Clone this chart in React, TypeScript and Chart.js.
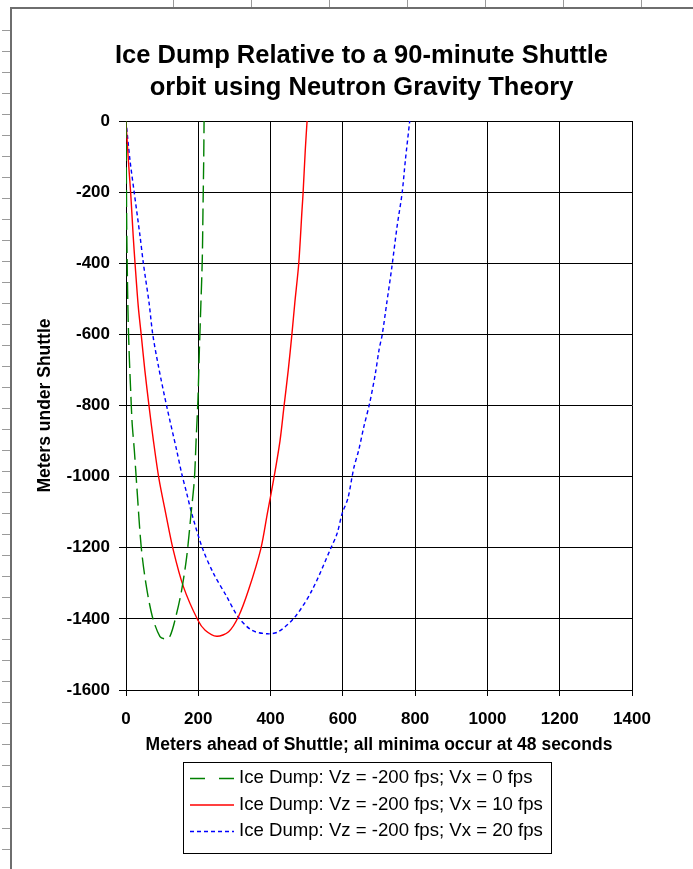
import React, { useEffect, useRef } from 'react';
import { Chart, registerables } from 'chart.js';

Chart.register(...registerables);

const TITLE_LINES = ['Ice Dump Relative to a 90-minute Shuttle', 'orbit using Neutron Gravity Theory'];
const X_TITLE = 'Meters ahead of Shuttle; all minima occur at 48 seconds';
const Y_TITLE = 'Meters under Shuttle';
const SERIES_LABELS = [
  'Ice Dump: Vz = -200 fps; Vx = 0 fps',
  'Ice Dump: Vz = -200 fps; Vx = 10 fps',
  'Ice Dump: Vz = -200 fps; Vx = 20 fps',
];

// Vx = 0 fps
const vx0X = [0, 1, 2, 4, 6, 9, 13, 17, 23, 30, 42, 55, 73, 94, 108, 122, 140, 154, 168, 180, 189, 194, 199, 203, 207, 211, 213, 215, 216];
const vx0Y = [0, -150, -300, -450, -560, -660, -760, -850, -925, -1029, -1197, -1300, -1394, -1450, -1456, -1448, -1385, -1319, -1225, -1104, -1010, -897, -785, -644, -520, -391, -250, -110, 0];

// Vx = 10 fps
const vx10X = [0, 4, 9, 13, 20, 25, 34, 42, 52, 64, 76, 91, 110, 130, 159, 199, 219, 251, 284, 311, 339, 373, 391, 409, 426, 437, 449, 459, 467, 478, 487, 490, 496, 501];
const vx10Y = [0, -70, -147, -203, -325, -400, -522, -600, -700, -804, -900, -1005, -1104, -1203, -1310, -1404, -1432, -1449, -1436, -1394, -1319, -1203, -1104, -1005, -900, -804, -700, -600, -512, -400, -250, -202, -82, 0];

// Vx = 20 fps
const vx20X = [0, 11, 23, 39, 48, 64, 74, 90, 113, 140, 154, 168, 182, 212, 242, 279, 310, 348, 392, 422, 468, 515, 566, 584, 598, 614, 630, 644, 658, 674, 690, 700, 709, 721, 735, 750, 764, 773, 785];
const vx20Y = [0, -110, -203, -325, -400, -513, -600, -691, -804, -925, -991, -1047, -1104, -1203, -1272, -1338, -1394, -1432, -1442, -1436, -1394, -1319, -1203, -1160, -1104, -1061, -977, -925, -860, -794, -710, -644, -600, -515, -415, -297, -202, -110, 0];

const X_MIN = 0;
const X_MAX = 1400;
const Y_MIN = -1600;
const Y_MAX = 0;
const STEP = 200;

const COLORS = ['#008000', '#ff0000', '#0000ff'];
const DASHES = [[17, 6], [], [4, 3]];
const LEGEND_DASHES = [[15, 14], [], [4, 3]];

const FONT = "'Liberation Sans', Arial, sans-serif";

function pts(xs: number[], ys: number[]) {
  return xs.map((x, i) => ({ x, y: ys[i] }));
}

const framePlugin = {
  id: 'sheetFrame',
  beforeDraw(chart: any) {
    const ctx = chart.ctx;
    const w = chart.width;
    const h = chart.height;
    ctx.save();
    ctx.fillStyle = '#ffffff';
    ctx.fillRect(0, 0, w, h);
    ctx.strokeStyle = '#6e6e6e';
    ctx.lineWidth = 2;
    ctx.beginPath();
    ctx.moveTo(11, h);
    ctx.lineTo(11, 8);
    ctx.lineTo(w, 8);
    ctx.stroke();
    ctx.lineWidth = 1;
    ctx.strokeStyle = '#9a9a9a';
    ctx.beginPath();
    for (let y = 30; y < h; y += 21) {
      ctx.moveTo(2, y + 0.5);
      ctx.lineTo(10, y + 0.5);
    }
    for (let x = 173; x < w; x += 78) {
      ctx.moveTo(x + 0.5, 0);
      ctx.lineTo(x + 0.5, 7);
    }
    ctx.stroke();
    ctx.restore();
  },
};

const titlePlugin = {
  id: 'fixedTitle',
  afterDraw(chart: any, _args: any, opts: any) {
    const ctx = chart.ctx;
    ctx.save();
    ctx.fillStyle = '#000000';
    ctx.font = `bold ${opts.fontSize}px ${FONT}`;
    ctx.textAlign = 'center';
    ctx.textBaseline = 'middle';
    TITLE_LINES.forEach((line, i) => {
      ctx.fillText(line, opts.centerX, opts.firstY + i * opts.lineH);
    });
    ctx.restore();
  },
};

const boxLegendPlugin = {
  id: 'boxLegend',
  afterDraw(chart: any, _args: any, opts: any) {
    const ctx = chart.ctx;
    ctx.save();
    ctx.strokeStyle = '#000000';
    ctx.lineWidth = 1;
    ctx.strokeRect(opts.left + 0.5, opts.top + 0.5, opts.width, opts.height);
    chart.data.datasets.forEach((ds: any, i: number) => {
      const y = opts.top + opts.firstRow + i * opts.rowH;
      ctx.strokeStyle = ds.borderColor;
      ctx.lineWidth = ds.borderWidth;
      ctx.setLineDash(LEGEND_DASHES[i]);
      ctx.beginPath();
      ctx.moveTo(opts.sampleX0, y + 0.5);
      ctx.lineTo(opts.sampleX1, y + 0.5);
      ctx.stroke();
      ctx.setLineDash([]);
      ctx.fillStyle = '#000000';
      ctx.font = `${opts.fontSize}px ${FONT}`;
      ctx.textBaseline = 'middle';
      ctx.textAlign = 'left';
      ctx.fillText(ds.label, opts.textX, y);
    });
    ctx.restore();
  },
};

export default function App() {
  const canvasRef = useRef<HTMLCanvasElement | null>(null);

  useEffect(() => {
    const canvas = canvasRef.current;
    if (!canvas) return;
    const series = [
      pts(vx0X, vx0Y),
      pts(vx10X, vx10Y),
      pts(vx20X, vx20Y),
    ];
    const chart = new Chart(canvas, {
      type: 'scatter',
      data: {
        datasets: series.map((data, i) => ({
          label: SERIES_LABELS[i],
          data,
          showLine: true,
          borderColor: COLORS[i],
          backgroundColor: COLORS[i],
          borderWidth: 1.4,
          borderDash: DASHES[i],
          pointRadius: 0,
          pointHoverRadius: 0,
          tension: 0.3,
          fill: false,
        })),
      },
      options: {
        animation: false,
        responsive: false,
        devicePixelRatio: 1,
        layout: { padding: { left: 20, right: 61, top: 121, bottom: 109 } },
        plugins: {
          legend: { display: false },
          tooltip: { enabled: false },
          title: { display: false },
          fixedTitle: {
            centerX: 361.5,
            firstY: 56,
            lineH: 32,
            fontSize: 25.5,
          },
          boxLegend: {
            left: 183,
            top: 762,
            width: 368,
            height: 91,
            firstRow: 16,
            rowH: 26.5,
            sampleX0: 190,
            sampleX1: 234,
            textX: 239,
            fontSize: 18.6,
          },
        } as any,
        scales: {
          x: {
            type: 'linear',
            min: X_MIN,
            max: X_MAX,
            afterFit: (scale: any) => {
              scale.height = 70;
            },
            ticks: {
              stepSize: STEP,
              color: '#000000',
              padding: 13,
              font: { family: FONT, size: 17, weight: 'bold' },
              callback: (v: any) => String(v),
            },
            grid: { color: '#000000', lineWidth: 1, tickLength: 6 },
            border: { color: '#000000', width: 1 },
            title: {
              display: true,
              text: X_TITLE,
              color: '#000000',
              font: { family: FONT, size: 17.5, weight: 'bold', lineHeight: 1.2 },
              padding: { top: 0, bottom: 4.5 },
            },
          },
          y: {
            type: 'linear',
            min: Y_MIN,
            max: Y_MAX,
            afterFit: (scale: any) => {
              scale.width = 106;
            },
            ticks: {
              stepSize: STEP,
              color: '#000000',
              padding: 9,
              font: { family: FONT, size: 17, weight: 'bold' },
              callback: (v: any) => String(v),
            },
            grid: { color: '#000000', lineWidth: 1, tickLength: 7 },
            border: { color: '#000000', width: 1 },
            title: {
              display: true,
              text: Y_TITLE,
              color: '#000000',
              font: { family: FONT, size: 17.5, weight: 'bold', lineHeight: 1.2 },
              padding: { top: 14.5, bottom: 0 },
            },
          },
        },
      },
      plugins: [framePlugin, titlePlugin, boxLegendPlugin],
    } as any);
    return () => chart.destroy();
  }, []);

  return (
    <div style={{ position: 'absolute', left: 0, top: 0, width: 693, height: 869, background: '#ffffff' }}>
      <canvas ref={canvasRef} width={693} height={869} style={{ display: 'block', width: 693, height: 869 }} />
    </div>
  );
}
